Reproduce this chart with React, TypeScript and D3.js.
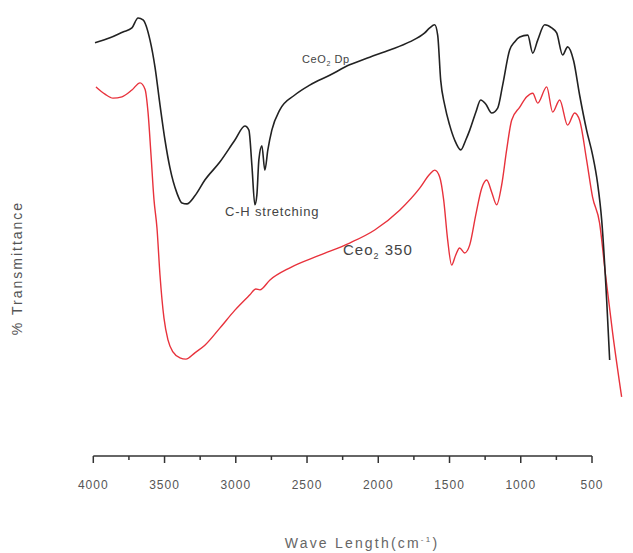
import React from 'react';
import * as d3 from 'd3';

// wavenumber (cm-1) and % transmittance
const dpWave = [3988, 3883, 3792, 3729, 3686, 3651, 3602, 3567, 3532, 3497, 3462, 3413, 3378, 3343, 3287, 3217, 3112, 3006, 2936, 2908, 2887, 2866, 2852, 2838, 2817, 2796, 2775, 2747, 2691, 2586, 2481, 2341, 2201, 2060, 1920, 1780, 1674, 1639, 1604, 1583, 1562, 1534, 1499, 1464, 1421, 1386, 1358, 1316, 1281, 1246, 1204, 1162, 1127, 1078, 1043, 1007, 951, 916, 881, 832, 783, 748, 706, 671, 629, 587, 538, 496, 461, 432, 397, 376];
const dpTrans = [91.6, 92.7, 94.0, 94.9, 97.1, 96.7, 92.2, 86.2, 77.8, 70.0, 63.8, 58.2, 56.0, 55.8, 57.6, 61.1, 65.1, 70.0, 73.1, 72.2, 64.4, 55.6, 57.8, 65.6, 68.7, 63.3, 67.8, 72.2, 76.7, 80.0, 82.2, 84.4, 86.7, 88.4, 90.0, 91.8, 93.8, 94.9, 95.6, 93.3, 83.3, 77.8, 73.3, 70.0, 67.8, 70.0, 72.2, 76.1, 78.9, 78.0, 76.0, 77.1, 82.2, 90.0, 91.8, 92.9, 93.3, 89.3, 92.2, 95.6, 94.9, 93.8, 88.9, 90.7, 87.6, 80.0, 72.2, 66.7, 60.4, 52.2, 34.4, 21.1];

const c350Wave = [3981, 3918, 3862, 3799, 3729, 3672, 3637, 3616, 3595, 3574, 3553, 3532, 3504, 3476, 3441, 3392, 3350, 3287, 3217, 3112, 3006, 2901, 2859, 2831, 2760, 2620, 2410, 2201, 2025, 1850, 1709, 1639, 1604, 1569, 1541, 1513, 1485, 1457, 1429, 1394, 1358, 1316, 1274, 1239, 1204, 1169, 1134, 1099, 1064, 1007, 958, 916, 881, 818, 776, 727, 671, 622, 587, 538, 496, 447, 405, 355, 292];
const c350Trans = [81.8, 80.2, 79.3, 79.6, 81.1, 82.7, 81.3, 76.2, 66.7, 56.7, 50.4, 40.0, 30.4, 25.6, 22.9, 21.6, 21.3, 22.7, 24.4, 28.2, 32.2, 35.6, 36.9, 36.7, 38.9, 41.6, 44.4, 47.1, 50.0, 54.4, 59.3, 62.4, 63.3, 61.8, 56.7, 47.8, 42.2, 44.4, 46.0, 44.9, 46.7, 53.3, 59.3, 61.1, 58.4, 55.6, 60.0, 67.8, 74.4, 77.3, 79.6, 80.4, 78.2, 81.8, 76.2, 78.9, 73.3, 76.0, 74.4, 65.6, 57.3, 51.6, 40.0, 27.1, 12.9];

const majorTicks = [4000, 3500, 3000, 2500, 2000, 1500, 1000, 500];
const minorTicks = [3750, 3250, 2750, 2250, 1750, 1250, 750];

const W = 633, H = 553;

export default function App() {
  const x = d3.scaleLinear().domain([4000, 500]).range([93.3, 592]);
  const y = d3.scaleLinear().domain([0, 100]).range([455, 5]);

  const line = d3.line<[number, number]>()
    .x(d => x(d[0]))
    .y(d => y(d[1]))
    .curve(d3.curveMonotoneX);

  const dp = dpWave.map((w, i) => [w, dpTrans[i]] as [number, number]);
  const c350 = c350Wave.map((w, i) => [w, c350Trans[i]] as [number, number]);

  const axisY = 456;
  const font = 'Arial, "Liberation Sans", sans-serif';

  return (
    <svg width={W} height={H} style={{ position: 'absolute', left: 0, top: 0, background: '#fff' }}>
      {/* spectra */}
      <path d={line(c350) || ''} fill="none" stroke="#e8323c" strokeWidth={1.4} />
      <path d={line(dp) || ''} fill="none" stroke="#222" strokeWidth={1.6} />

      {/* x axis */}
      <g stroke="#333" strokeWidth={1.5} fill="none">
        <line x1={x(4000)} x2={x(500)} y1={axisY} y2={axisY} />
        {majorTicks.map(t => (
          <line key={t} x1={x(t)} x2={x(t)} y1={axisY} y2={axisY + 7} />
        ))}
        {minorTicks.map(t => (
          <line key={t} x1={x(t)} x2={x(t)} y1={axisY} y2={axisY + 4} />
        ))}
      </g>
      <g fontFamily={font} fontSize={12} fill="#555" textAnchor="middle">
        {majorTicks.map(t => (
          <text key={t} x={x(t)} y={489} letterSpacing={1}>{t}</text>
        ))}
      </g>
      <text x={362} y={548} fontFamily={font} fontSize={14} fill="#666" textAnchor="middle" letterSpacing={2.2}>
        Wave Length(cm<tspan dy={-6} fontSize={8}>-1</tspan><tspan dy={6}>)</tspan>
      </text>

      {/* y label */}
      <text transform="translate(22,268) rotate(-90)" fontFamily={font} fontSize={14} fill="#555" textAnchor="middle" letterSpacing={2}>
        % Transmittance
      </text>

      {/* annotations */}
      <text x={302} y={63} fontFamily={font} fontSize={11} fill="#444" letterSpacing={0.6}>
        CeO<tspan dy={3} fontSize={7}>2</tspan><tspan dy={-3}> Dp</tspan>
      </text>
      <text x={225} y={216} fontFamily={font} fontSize={13} fill="#444" letterSpacing={0.8}>
        C-H stretching
      </text>
      <text x={343} y={255} fontFamily={font} fontSize={15} fill="#444" letterSpacing={1}>
        Ceo<tspan dy={4} fontSize={9}>2</tspan><tspan dy={-4}> 350</tspan>
      </text>
    </svg>
  );
}
